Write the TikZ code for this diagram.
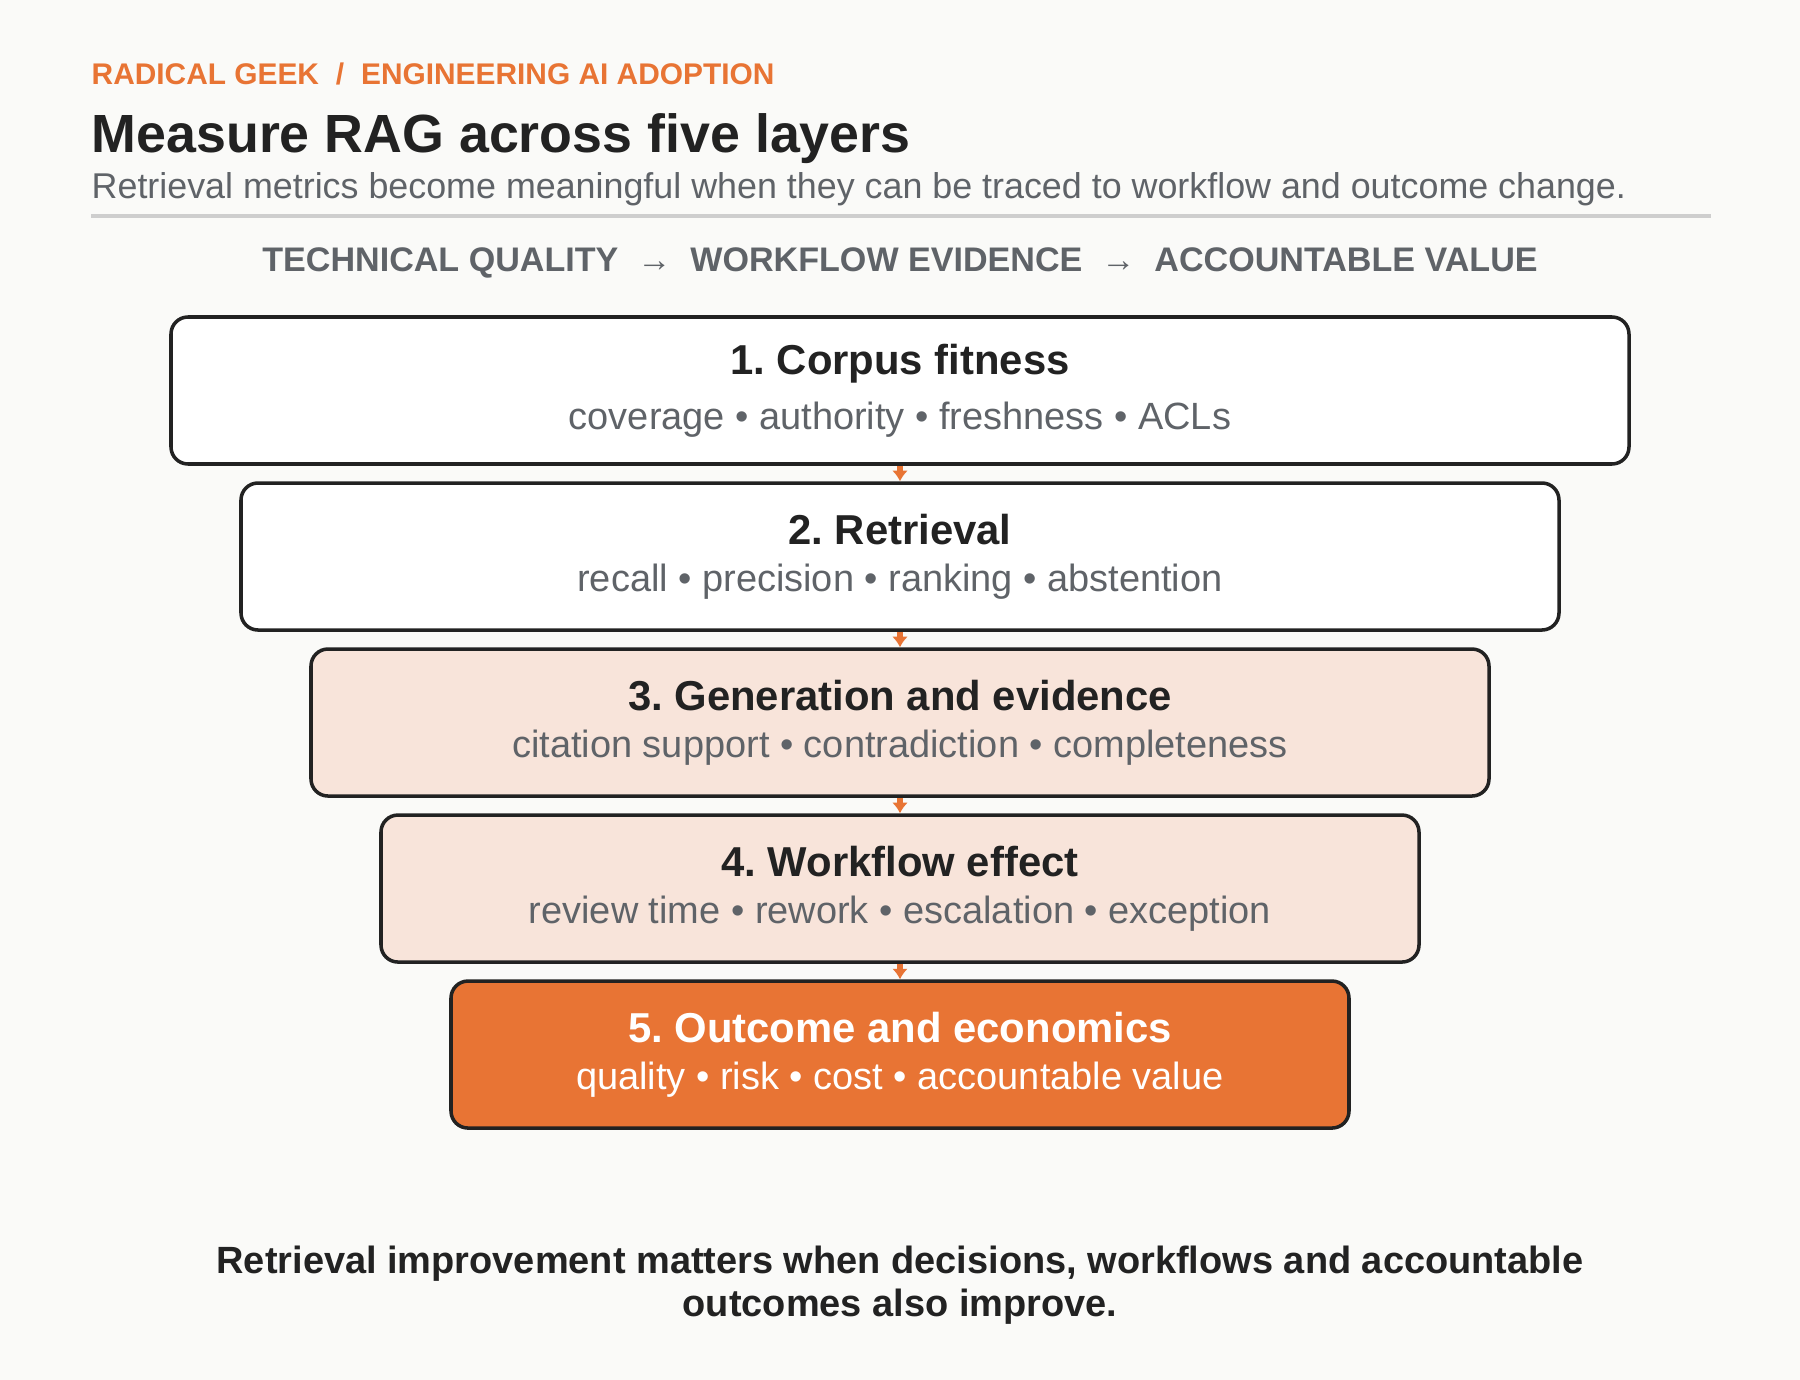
\documentclass[tikz,border=0pt]{standalone}
\usepackage{fontspec}
\setmainfont{Liberation Sans}
\usepackage{tikz}
\usetikzlibrary{arrows.meta,positioning}
\definecolor{paper}{RGB}{250,250,248}
\definecolor{ink}{RGB}{34,34,34}
\definecolor{slate}{RGB}{95,99,104}
\definecolor{rgorange}{RGB}{232,116,52}
\definecolor{peach}{RGB}{248,228,218}
\definecolor{rulegray}{RGB}{206,206,206}
\newcommand{\layertitle}[1]{{\fontsize{11.9}{13.4}\selectfont\bfseries\color{ink}#1}}
\frenchspacing

\begin{document}
\begin{tikzpicture}[x=1.0cm,y=1.0cm,
    layer/.style={draw=ink, line width=1pt, rounded corners=0.17cm, fill=white,
      minimum height=1.47cm, align=center, text=slate, inner sep=0pt,
      font=\fontsize{10.8}{13.4}\selectfont},
    softlayer/.style={layer, fill=peach},
    hotlayer/.style={layer, fill=rgorange, text=white},
    flowarrow/.style={rgorange, line width=1.6pt, -{Latex[length=3pt,width=4.5pt]}}]
  \fill[paper] (0,0) rectangle (18,-13.8);

  \node[anchor=base west, inner sep=0pt, text=rgorange, font=\fontsize{8.5}{10}\selectfont\bfseries] (brand) at (0.91,-0.85)
    {RADICAL GEEK\hspace{4.8pt}/\hspace{4.8pt}ENGINEERING AI ADOPTION};
  \node[anchor=base west, inner sep=0pt, text=ink, font=\fontsize{15.3}{18}\selectfont\bfseries] (title) at (0.91,-1.53)
    {Measure RAG across five layers};
  \node[anchor=base west, inner sep=0pt, text=slate, font=\fontsize{10.2}{12}\selectfont] (subtitle) at (0.91,-1.99)
    {Retrieval metrics become meaningful when they can be traced to workflow and outcome change.};
  \draw[rulegray, line width=1pt] (0.91,-2.16) -- (17.11,-2.16);
  \node[anchor=base, text=slate, font=\fontsize{9.7}{12}\selectfont\bfseries] (stages) at (9,-2.72)
    {TECHNICAL QUALITY \ → \ WORKFLOW EVIDENCE \ → \ ACCOUNTABLE VALUE};

  \node[layer, minimum width=14.58cm] (l1) at (9,-3.905)
    {\layertitle{1. Corpus fitness}\\[2.2pt] coverage • authority • freshness • ACLs};
  \node[layer, minimum width=13.18cm, below=0.155cm of l1] (l2)
    {\layertitle{2. Retrieval}\\ recall • precision • ranking • abstention};
  \node[softlayer, minimum width=11.78cm, below=0.155cm of l2] (l3)
    {\layertitle{3. Generation and evidence}\\ citation support • contradiction • completeness};
  \node[softlayer, minimum width=10.38cm, below=0.155cm of l3] (l4)
    {\layertitle{4. Workflow effect}\\ review time • rework • escalation • exception};
  \node[hotlayer, minimum width=8.98cm, below=0.155cm of l4] (l5)
    {{\fontsize{11.9}{13.4}\selectfont\bfseries 5. Outcome and economics}\\ quality • risk • cost • accountable value};

  \foreach \a/\b in {l1/l2,l2/l3,l3/l4,l4/l5}
    \draw[flowarrow] (\a.south) -- (\b.north);

  \node[align=center, text=ink, font=\fontsize{10.8}{12.2}\selectfont\bfseries] (takeaway) at (9,-12.85)
    {Retrieval improvement matters when decisions, workflows and accountable\\ outcomes also improve.};
\end{tikzpicture}
\end{document}
